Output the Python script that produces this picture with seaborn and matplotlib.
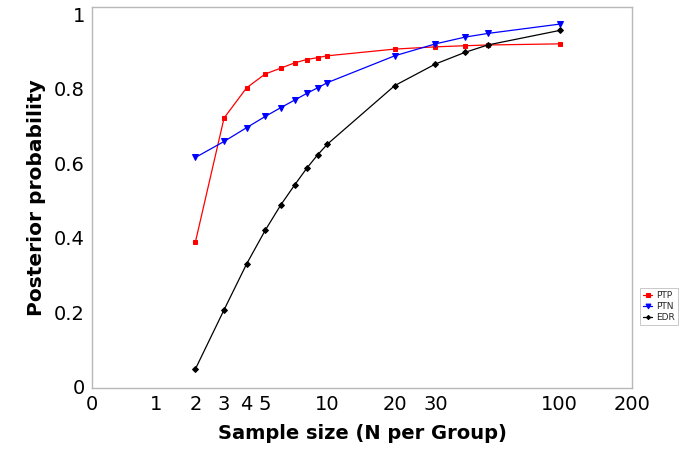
import numpy as np
import pandas as pd
import matplotlib
matplotlib.use("Agg")
import matplotlib.pyplot as plt
import seaborn as sns

sample_size = [2, 3, 4, 5, 6, 7, 8, 9, 10, 20, 30, 40, 50, 100]
ptp = [0.389, 0.722, 0.803, 0.840, 0.856, 0.870, 0.879, 0.884, 0.889, 0.907, 0.913, 0.916, 0.918, 0.921]
ptn = [0.616, 0.659, 0.696, 0.726, 0.750, 0.770, 0.788, 0.803, 0.817, 0.889, 0.921, 0.939, 0.949, 0.974]
edr = [0.048, 0.207, 0.330, 0.420, 0.489, 0.542, 0.587, 0.623, 0.652, 0.809, 0.867, 0.898, 0.918, 0.957]
x_ticks = [0, 1, 2, 3, 4, 5, 10, 20, 30, 100, 200]
y_ticks = [0, 0.2, 0.4, 0.6, 0.8, 1]
y_tick_labels = ["0", "0.2", "0.4", "0.6", "0.8", "1"]
series_names = ["PTP", "PTN", "EDR"]

sns.set_style("white")
plt.rcParams['font.family'] = ['DejaVu Sans']

fig = plt.figure(figsize=(6.85, 4.5), dpi=100)
ax = fig.add_axes([92/685, 1-388/450, (632-92)/685, (388-7)/450])

C = 1.2
ax.set_xscale('function', functions=(lambda x: np.log(np.asarray(x) + C),
                                     lambda y: np.exp(np.asarray(y)) - C))

styles = {
    "PTP": dict(color="#ff0000", marker="s", markersize=3.5),
    "PTN": dict(color="#0000ff", marker="v", markersize=5),
    "EDR": dict(color="#000000", marker="D", markersize=3),
}
for name, vals in zip(series_names, [ptp, ptn, edr]):
    df = pd.DataFrame({"N": sample_size, "P": vals})
    st = styles[name]
    sns.lineplot(data=df, x="N", y="P", ax=ax, color=st["color"], marker=st["marker"],
                 markersize=st["markersize"], markeredgecolor=st["color"], linewidth=0.9,
                 label=name, legend=False)

ax.set_xlim(0, 200)
ax.set_ylim(-0.003, 1.02)
ax.set_xticks(x_ticks)
ax.set_xticklabels([str(t) for t in x_ticks])
ax.set_xticks([6, 7, 8, 9, 40, 50, 60, 70, 80, 90], minor=True)
ax.set_yticks(y_ticks)
ax.set_yticklabels(y_tick_labels)
ax.tick_params(axis='both', which='major', labelsize=14, length=3, width=0.8,
               color="#b0b0b0", direction='out', pad=2, labelcolor="black")
ax.tick_params(axis='x', which='minor', length=2, width=0.6, color="#c8c8c8", direction='out')
for s in ax.spines.values():
    s.set_color("#b8b8b8")
    s.set_linewidth(1)
ax.set_xlabel("Sample size (N per Group)", fontsize=14, fontweight='bold', labelpad=7, color="black")
ax.set_ylabel("Posterior probability", fontsize=14.5, fontweight='bold', labelpad=6, color="black")

handles, labels = ax.get_legend_handles_labels()
leg = fig.legend(handles, labels, loc='upper left', bbox_to_anchor=(640/685, 1-288/450),
                 fontsize=6.5, frameon=True, fancybox=False, edgecolor="#b0b0b0",
                 handlelength=1.0, handletextpad=0.4, borderpad=0.35, labelspacing=0.2,
                 markerscale=0.7, borderaxespad=0)
leg.get_frame().set_linewidth(0.6)

fig.savefig("out.png", dpi=100)
